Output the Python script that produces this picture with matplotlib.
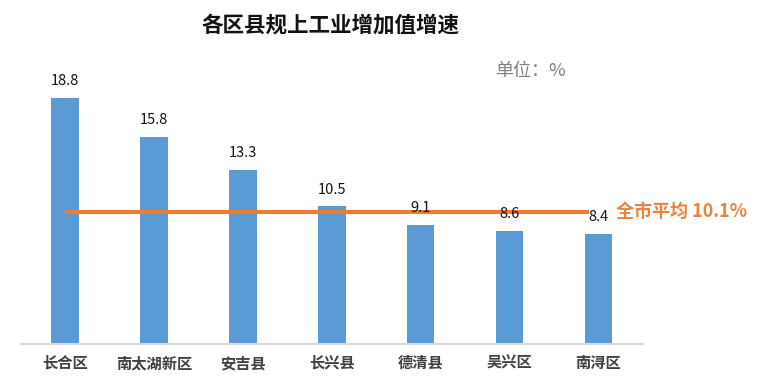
import matplotlib
matplotlib.use("Agg")
import matplotlib.pyplot as plt

plt.rcParams['font.family'] = ['Noto Sans CJK SC', 'DejaVu Sans']

# data
districts = ['长合区', '南太湖新区', '安吉县', '长兴县', '德清县', '吴兴区', '南浔区']
growth = [18.8, 15.8, 13.3, 10.5, 9.1, 8.6, 8.4]
city_avg = 10.1

bar_color = '#5B9BD5'
line_color = '#ED7D31'

fig = plt.figure(figsize=(7.68, 3.83), dpi=100)
ax = fig.add_axes([0.027, 0.102, 0.81, 0.698])

x = list(range(len(districts)))
ax.bar(x, growth, width=0.31, color=bar_color, zorder=2)

for xi, v in zip(x, growth):
    ax.text(xi, v + 0.75, f'{v}', ha='center', va='bottom', fontsize=10.5,
            color='#111111', zorder=4)

# city average line
ax.plot([0, 5.9], [city_avg, city_avg], color=line_color, lw=3, zorder=3,
        solid_capstyle='butt')
ax.text(6.2, city_avg, f'全市平均 {city_avg}%', ha='left', va='center',
        fontsize=13, fontweight='bold', color='#E8823E', clip_on=False)

ax.set_xlim(-0.5, 6.5)
ax.set_ylim(0, 20.4)
ax.set_yticks([])
ax.set_xticks(x)
ax.set_xticklabels(districts, fontsize=11, color='#404040', fontweight='bold')
ax.tick_params(axis='x', length=0, pad=8)
for s in ['top', 'right', 'left']:
    ax.spines[s].set_visible(False)
ax.spines['bottom'].set_color('#D9D9D9')
ax.spines['bottom'].set_linewidth(1.5)

fig.text(0.43, 0.935, '各区县规上工业增加值增速', ha='center', va='center',
         fontsize=15.5, fontweight='bold', color='#111111')
fig.text(0.645, 0.815, '单位：%', ha='left', va='center', fontsize=13,
         color='#7F7F7F')

fig.savefig('out.png', dpi=100)
